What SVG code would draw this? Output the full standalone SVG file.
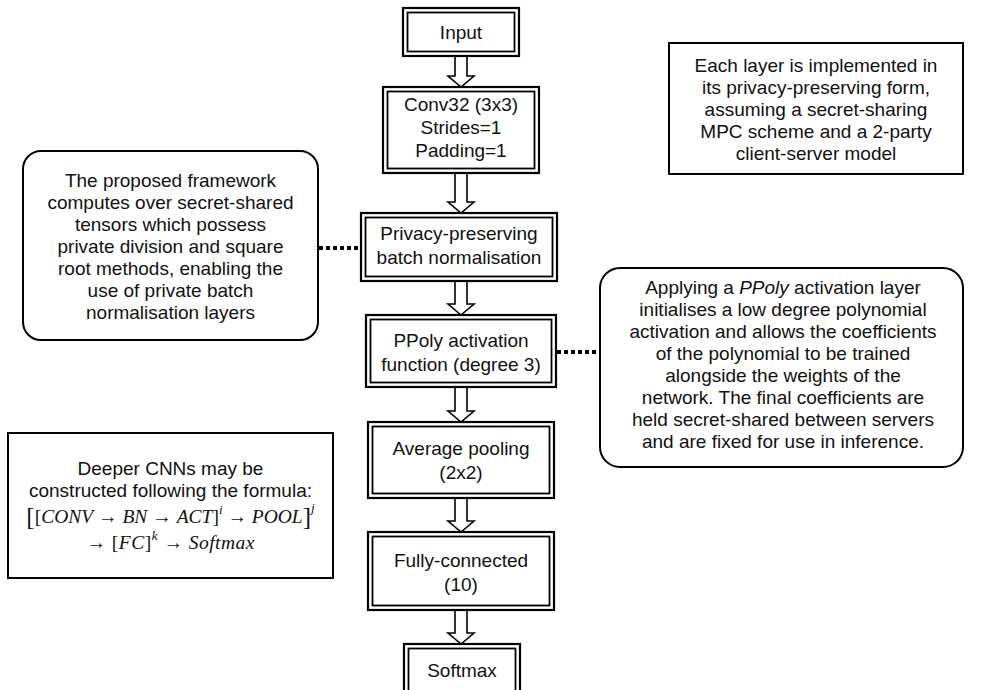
<svg xmlns="http://www.w3.org/2000/svg" width="983" height="690" viewBox="0 0 983 690">
<defs>
<style>
.t{font-family:"Liberation Sans",Arial,sans-serif;font-size:19px;fill:#111;text-anchor:middle}
.m{font-family:"Liberation Serif","Times New Roman",serif;font-size:19.5px;fill:#111}
.mi{font-style:italic}
.o{fill:#fff;stroke:#000;stroke-width:2.2}
.i{fill:none;stroke:#000;stroke-width:1.8}
.n{fill:#fff;stroke:#000;stroke-width:2}
.a{fill:#fff;stroke:#000;stroke-width:1.6;stroke-linejoin:miter}
.d{stroke:#000;stroke-width:4;stroke-dasharray:4 3;fill:none}
</style>
</defs>
<rect width="983" height="690" fill="#fff"/>
<g id="connectors">
<polygon class="a" points="455,56 467,56 467,76 474,76 461,87 448,76 455,76"/>
<polygon class="a" points="455,173 467,173 467,202 474,202 461,213 448,202 455,202"/>
<polygon class="a" points="455,281 467,281 467,304 474,304 461,315 448,304 455,304"/>
<polygon class="a" points="455,387 467,387 467,411 474,411 461,422 448,411 455,411"/>
<polygon class="a" points="455,498 467,498 467,521 474,521 461,532 448,521 455,521"/>
<polygon class="a" points="455,610 467,610 467,633 474,633 461,644 448,633 455,633"/>
<line class="d" x1="319" y1="248" x2="361" y2="248"/>
<line class="d" x1="557" y1="352" x2="600" y2="352"/>
</g>
<g id="input">
<rect class="o" x="403" y="8" width="116" height="48"/>
<rect class="i" x="407.5" y="12.5" width="107" height="39"/>
<text class="t" x="461" y="39">Input</text>
</g>
<g id="conv">
<rect class="o" x="383" y="87" width="156" height="86"/>
<rect class="i" x="387.5" y="91.5" width="147" height="77"/>
<text class="t" x="461" y="111">Conv32 (3x3)</text>
<text class="t" x="461" y="134">Strides=1</text>
<text class="t" x="461" y="157">Padding=1</text>
</g>
<g id="bn">
<rect class="o" x="361" y="213" width="196" height="68"/>
<rect class="i" x="365.5" y="217.5" width="187" height="59"/>
<text class="t" x="459" y="240">Privacy-preserving</text>
<text class="t" x="459" y="264">batch normalisation</text>
</g>
<g id="ppoly">
<rect class="o" x="366" y="315" width="190" height="72"/>
<rect class="i" x="370.5" y="319.5" width="181" height="63"/>
<text class="t" x="461" y="347">PPoly activation</text>
<text class="t" x="461" y="371">function (degree 3)</text>
</g>
<g id="pool">
<rect class="o" x="368" y="422" width="186" height="76"/>
<rect class="i" x="372.5" y="426.5" width="177" height="67"/>
<text class="t" x="461" y="455">Average pooling</text>
<text class="t" x="461" y="479">(2x2)</text>
</g>
<g id="fc">
<rect class="o" x="368" y="532" width="186" height="78"/>
<rect class="i" x="372.5" y="536.5" width="177" height="69"/>
<text class="t" x="461" y="567">Fully-connected</text>
<text class="t" x="461" y="591">(10)</text>
</g>
<g id="softmax">
<rect class="o" x="404" y="644" width="116" height="52"/>
<rect class="i" x="408.5" y="648.5" width="107" height="43"/>
<text class="t" x="462" y="677">Softmax</text>
</g>
<g id="note-mpc">
<rect class="n" x="669" y="43" width="294" height="131"/>
<text class="t" x="816" y="72">Each layer is implemented in</text>
<text class="t" x="816" y="94">its privacy-preserving form,</text>
<text class="t" x="816" y="116">assuming a secret-sharing</text>
<text class="t" x="816" y="138">MPC scheme and a 2-party</text>
<text class="t" x="816" y="160">client-server model</text>
</g>
<g id="note-bn">
<rect class="n" x="23" y="151" width="295" height="189" rx="18"/>
<text class="t" x="170.5" y="187">The proposed framework</text>
<text class="t" x="170.5" y="209">computes over secret-shared</text>
<text class="t" x="170.5" y="231">tensors which possess</text>
<text class="t" x="170.5" y="253">private division and square</text>
<text class="t" x="170.5" y="275">root methods, enabling the</text>
<text class="t" x="170.5" y="297">use of private batch</text>
<text class="t" x="170.5" y="319">normalisation layers</text>
</g>
<g id="note-ppoly">
<rect class="n" x="600" y="268" width="363" height="199" rx="20"/>
<text class="t" x="783" y="294">Applying a <tspan font-style="italic">PPoly</tspan> activation layer</text>
<text class="t" x="783" y="316">initialises a low degree polynomial</text>
<text class="t" x="783" y="338">activation and allows the coefficients</text>
<text class="t" x="783" y="360">of the polynomial to be trained</text>
<text class="t" x="783" y="382">alongside the weights of the</text>
<text class="t" x="783" y="404">network. The final coefficients are</text>
<text class="t" x="783" y="426">held secret-shared between servers</text>
<text class="t" x="783" y="448">and are fixed for use in inference.</text>
</g>
<g id="note-formula">
<rect class="n" x="8" y="433" width="325" height="145"/>
<text class="t" x="170.5" y="475">Deeper CNNs may be</text>
<text class="t" x="170.5" y="497">constructed following the formula:</text>
<text class="m" x="170.5" y="523" text-anchor="middle"><tspan font-size="25" dy="2">[</tspan><tspan dy="-2">[</tspan><tspan class="mi">CONV</tspan> → <tspan class="mi">BN</tspan> → <tspan class="mi">ACT</tspan>]<tspan class="mi" font-size="13" dy="-9">i</tspan><tspan dy="9"> → </tspan><tspan class="mi">POOL</tspan><tspan font-size="25" dy="2">]</tspan><tspan class="mi" font-size="13" dy="-13">j</tspan></text>
<text class="m" x="170.5" y="549" text-anchor="middle" textLength="168" lengthAdjust="spacing">→ [<tspan class="mi">FC</tspan>]<tspan class="mi" font-size="13" dy="-9">k</tspan><tspan dy="9"> → </tspan><tspan class="mi">Softmax</tspan></text>
</g>
</svg>
